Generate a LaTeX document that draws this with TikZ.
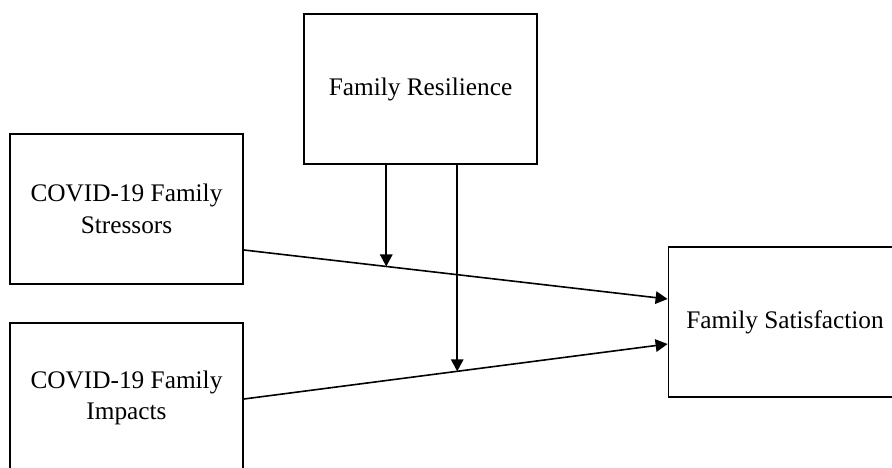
\documentclass[tikz,border=0pt]{standalone}
\usepackage{fontspec}
\setmainfont{Liberation Serif}
\usetikzlibrary{arrows.meta}
\begin{document}
\begin{tikzpicture}[x=1pt,y=-1pt,
  varbox/.style={draw=black,line width=1.8pt,minimum width=233pt,minimum height=150pt,
    inner sep=0pt,align=center,font=\fontsize{25.3}{31.5}\selectfont},
  path/.style={line width=1.6pt,-{Triangle[length=12pt,width=12.5pt]}}]
\useasboundingbox (0,0) rectangle (892,468);
\node[varbox] (res) at (420.5,89) {Family Resilience};
\node[varbox] (str) at (126.5,209) {COVID-19 Family\\Stressors};
\node[varbox] (imp) at (126.5,398) {COVID-19 Family\\Impacts};
\node[varbox] (sat) at (785,322) {Family Satisfaction};
% direct effects on satisfaction
\draw[path] ([yshift=-41pt]str.east) -- coordinate[pos=0.336] (m1) ([yshift=23pt]sat.west);
\draw[path] ([yshift=-1pt]imp.east) -- coordinate[pos=0.5035] (m2) ([yshift=-22pt]sat.west);
% moderation by resilience
\draw[path] (res.south -| m1) -- (m1);
\draw[path] (res.south -| m2) -- (m2);
\end{tikzpicture}
\end{document}
